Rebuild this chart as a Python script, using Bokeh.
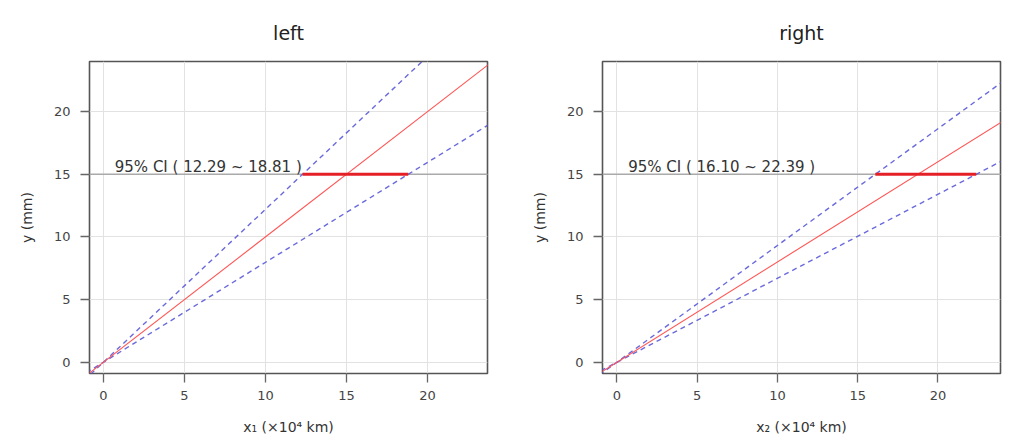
from bokeh.plotting import figure
from bokeh.layouts import row
from bokeh.models import ColumnDataSource, FixedTicker, Span, Label, Range1d
from bokeh.embed import file_html
from bokeh.resources import INLINE

# Calibration results for the two sensors
panel_titles = ["left", "right"]
x_labels = ["x\u2081 (\u00d710\u2074 km)", "x\u2082 (\u00d710\u2074 km)"]
y_label = "y (mm)"
y_target = 15.0
fit_x_at_target = [15.0, 18.75]     # x where the fitted line reaches y = 15
ci_low = [12.29, 16.10]              # upper band crosses y = 15 here
ci_high = [18.81, 22.39]             # lower band crosses y = 15 here
x_ticks = [0, 5, 10, 15, 20]
y_ticks = [0, 5, 10, 15, 20]
x_ranges = [(-0.86, 23.7), (-0.9, 23.9)]
y_range = (-0.9, 24.0)

FONT = "DejaVu Sans"
line_x = [-2.0, 30.0]


def make_panel(i, border_left, border_right):
    p = figure(width=border_left + 398 + border_right, height=447,
               min_border_left=border_left, min_border_right=border_right,
               min_border_top=61, min_border_bottom=74,
               x_range=Range1d(*x_ranges[i]), y_range=Range1d(*y_range),
               output_backend="svg", toolbar_location=None,
               title=panel_titles[i])
    p.title.align = "center"
    p.title.text_font = FONT
    p.title.text_font_size = "19px"
    p.title.text_font_style = "normal"
    p.title.text_color = "#222222"
    p.title.standoff = 36

    p.outline_line_color = "#555555"
    p.outline_line_width = 1.6
    p.background_fill_color = "white"
    p.border_fill_color = "white"

    for ax, ticks in ((p.xaxis, x_ticks), (p.yaxis, y_ticks)):
        ax.ticker = FixedTicker(ticks=ticks)
        ax.axis_line_color = None
        ax.major_tick_out = 9
        ax.major_tick_in = 0
        ax.major_tick_line_color = "#666666"
        ax.major_tick_line_width = 1.3
        ax.minor_tick_line_color = None
        ax.major_label_text_font = FONT
        ax.major_label_text_font_size = "13px"
        ax.major_label_text_color = "#444444"
        ax.axis_label_text_font = FONT
        ax.axis_label_text_font_size = "14px"
        ax.axis_label_text_font_style = "normal"
        ax.axis_label_text_color = "#333333"
    p.xaxis.major_label_standoff = 8
    p.yaxis.major_label_standoff = 10
    p.xaxis.axis_label = x_labels[i]
    p.yaxis.axis_label = y_label
    p.xaxis.axis_label_standoff = 16
    p.yaxis.axis_label_standoff = 16
    p.yaxis.major_label_orientation = "horizontal"

    p.grid.grid_line_color = "#e2e2e2"
    p.grid.grid_line_width = 1

    # reference level, kept beneath the data lines
    p.add_layout(Span(location=y_target, dimension="width", level="underlay",
                      line_color="#aaaaaa", line_width=1.4))

    # fitted line and confidence bands, all through the origin
    s_fit = y_target / fit_x_at_target[i]
    s_up = y_target / ci_low[i]
    s_lo = y_target / ci_high[i]
    src = ColumnDataSource(dict(
        x=line_x,
        fit=[s_fit * v for v in line_x],
        up=[s_up * v for v in line_x],
        lo=[s_lo * v for v in line_x],
    ))
    p.line("x", "up", source=src, line_color="#5a5ad8", line_width=1.4,
           line_dash="5 4", line_alpha=0.9)
    p.line("x", "lo", source=src, line_color="#5a5ad8", line_width=1.4,
           line_dash="5 4", line_alpha=0.9)
    p.line("x", "fit", source=src, line_color="#ff5555", line_width=1.1)

    # interval at y = 15
    p.segment(x0=[ci_low[i]], y0=[y_target], x1=[ci_high[i]], y1=[y_target],
              line_color="#e41f26", line_width=3.2)

    p.add_layout(Label(x=0.7, y=15.6,
                       text=f"95% CI ( {ci_low[i]:.2f} ~ {ci_high[i]:.2f} )",
                       text_font=FONT, text_font_size="15px",
                       text_color="#333333", text_baseline="alphabetic"))
    return p


left = make_panel(0, 89, 19)
right = make_panel(1, 96, 12)
layout = row(left, right)

open("out.html", "w").write(file_html(layout, INLINE))
